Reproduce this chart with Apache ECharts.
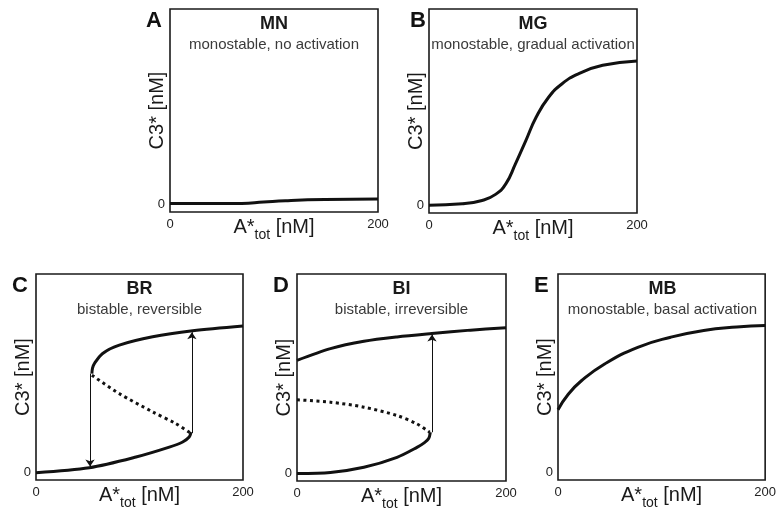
<!DOCTYPE html>
<html>
<head>
<meta charset="utf-8">
<script src="https://cdn.jsdelivr.net/npm/echarts@6/dist/echarts.min.js"></script>
<style>
html, body { margin: 0; padding: 0; background: #fff; }
#main { width: 779px; height: 514px; }
</style>
</head>
<body>
<div id="main"></div>
<script>
// A*tot in nM (0..200), C3* in arbitrary units (100 = top of box)
var aX = [0, 40, 69, 90, 111, 149, 200];
var aY = [0.3, 0.3, 0.4, 1.1, 1.8, 2.4, 2.6];

var bX = [0, 32, 51, 64, 74, 83, 93, 103, 115, 128, 144, 167, 200];
var bY = [0, 0.7, 2.4, 5.5, 11, 20.9, 32.8, 44.8, 55, 61.9, 67, 71.3, 73.5];

var cLowX = [0, 51.5, 96.6, 128.8, 141.7, 148, 149.8];
var cLowY = [-0.3, 2.2, 7.6, 12.6, 15.2, 17.7, 20.2];
var cHighX = [54, 54.6, 56.4, 64.4, 80.5, 112.7, 151.4, 200];
var cHighY = [49.7, 52.5, 54.8, 59.9, 64.1, 68.3, 71.3, 73.7];
var cMidX = [54, 80.5, 112.7, 135, 149];
var cMidY = [48.9, 39.6, 30.4, 24.5, 19.8];
var cArrows = [[52.2, 49.7, 2.8], [150.6, 19.7, 70.6]];   // x, from, to

var dLowX = [0, 32, 64, 95.7, 114.8, 122, 126, 127.6];
var dLowY = [-0.2, 0.3, 2.9, 7.9, 12.9, 15.3, 17.3, 20.5];
var dHighX = [0, 32, 64, 95.7, 129, 166, 200];
var dHighY = [56.6, 62.5, 66.2, 68.4, 70.1, 71.8, 73];
var dMidX = [0, 32, 64, 95.7, 114.8, 127];
var dMidY = [36.8, 35.6, 33.1, 28.9, 24.7, 20.5];
var dArrows = [[129.2, 20.5, 69.6]];

var eX = [0, 9.9, 22.6, 45, 77, 108.8, 140.7, 172.6, 200];
var eY = [31.5, 39.3, 46.1, 54.6, 63, 68.1, 71.5, 73.2, 74];

var letters = ['A', 'B', 'C', 'D', 'E'];
var codes = ['MN', 'MG', 'BR', 'BI', 'MB'];
var subtitles = ['monostable, no activation', 'monostable, gradual activation',
  'bistable, reversible', 'bistable, irreversible', 'monostable, basal activation'];

// box geometry in px
var boxes = [
  { left: 170, top: 9, width: 208, height: 203 },
  { left: 429, top: 9, width: 208, height: 204 },
  { left: 36, top: 274, width: 207, height: 206 },
  { left: 297, top: 274, width: 209, height: 207 },
  { left: 558, top: 274, width: 209, height: 206 }
];
var letterPos = [[146, 10], [410, 10], [12, 275], [273, 275], [534, 275]];

function pts(xs, ys) {
  return xs.map(function (x, i) { return [x, ys[i]]; });
}

var curves = [
  [{ d: pts(aX, aY), sm: 0.5 }],
  [{ d: pts(bX, bY), sm: 0.5 }],
  [{ d: pts(cLowX, cLowY), arrows: cArrows }, { d: pts(cHighX, cHighY) }, { d: pts(cMidX, cMidY), dotted: true }],
  [{ d: pts(dLowX, dLowY), arrows: dArrows }, { d: pts(dHighX, dHighY) }, { d: pts(dMidX, dMidY), dotted: true }],
  [{ d: pts(eX, eY), sm: 0.5 }]
];

var grid = [], xAxis = [], yAxis = [], series = [], title = [];

boxes.forEach(function (b, i) {
  grid.push({
    left: b.left, top: b.top, width: b.width, height: b.height,
    show: true, borderColor: '#1a1a1a', borderWidth: 1.6, containLabel: false
  });
  xAxis.push({
    gridIndex: i, type: 'value', min: 0, max: 200, interval: 200,
    axisLine: { show: false }, axisTick: { show: false }, splitLine: { show: false },
    axisLabel: { fontSize: 13, color: '#222', margin: 6, fontFamily: 'Liberation Sans' },
    name: 'A*{sub|tot} [nM]', nameLocation: 'middle', nameGap: 0, nameMoveOverlap: false,
    nameTextStyle: {
      fontSize: 20, color: '#1a1a1a', fontFamily: 'Liberation Sans', verticalAlign: 'top',
      rich: { sub: { fontSize: 14, padding: [16, 0, 0, 0], fontFamily: 'Liberation Sans', color: '#1a1a1a' } }
    }
  });
  yAxis.push({
    gridIndex: i, type: 'value', min: -4, max: 100, interval: 4,
    axisLine: { show: false }, axisTick: { show: false }, splitLine: { show: false },
    axisLabel: {
      fontSize: 13, color: '#222', margin: 5, fontFamily: 'Liberation Sans',
      formatter: function (v) { return v === 0 ? '0' : ''; }
    },
    name: 'C3* [nM]', nameLocation: 'middle', nameGap: 3, nameMoveOverlap: false,
    nameTextStyle: { fontSize: 20, color: '#1a1a1a', fontFamily: 'Liberation Sans' }
  });
  title.push({
    text: letters[i], left: letterPos[i][0], top: letterPos[i][1], padding: 0,
    textStyle: { fontSize: 22, fontWeight: 'bold', color: '#111', fontFamily: 'Liberation Sans' }
  });
  title.push({
    text: codes[i], subtext: subtitles[i],
    left: b.left + b.width / 2, top: b.top + 6, textAlign: 'center', padding: 0, itemGap: 4,
    textStyle: { fontSize: 18, fontWeight: 'bold', color: '#1a1a1a', fontFamily: 'Liberation Sans' },
    subtextStyle: { fontSize: 15, color: '#3a3a3a', fontFamily: 'Liberation Sans' }
  });
  curves[i].forEach(function (c) {
    var s = {
      type: 'line', xAxisIndex: i, yAxisIndex: i, data: c.d,
      smooth: c.sm || 0.3, symbol: 'none', silent: true,
      lineStyle: { color: '#111', width: 3, type: c.dotted ? [3, 3.5] : 'solid' }
    };
    if (c.arrows) {
      s.markLine = {
        silent: true, symbol: ['none', 'arrow'], symbolSize: 7,
        label: { show: false },
        lineStyle: { color: '#111', width: 1, type: 'solid' },
        data: c.arrows.map(function (a) {
          return [{ coord: [a[0], a[1]] }, { coord: [a[0], a[2]] }];
        })
      };
    }
    series.push(s);
  });
});

var chart = echarts.init(document.getElementById('main'));
chart.setOption({
  animation: false,
  backgroundColor: '#fff',
  title: title,
  grid: grid,
  xAxis: xAxis,
  yAxis: yAxis,
  series: series
});
</script>
</body>
</html>
